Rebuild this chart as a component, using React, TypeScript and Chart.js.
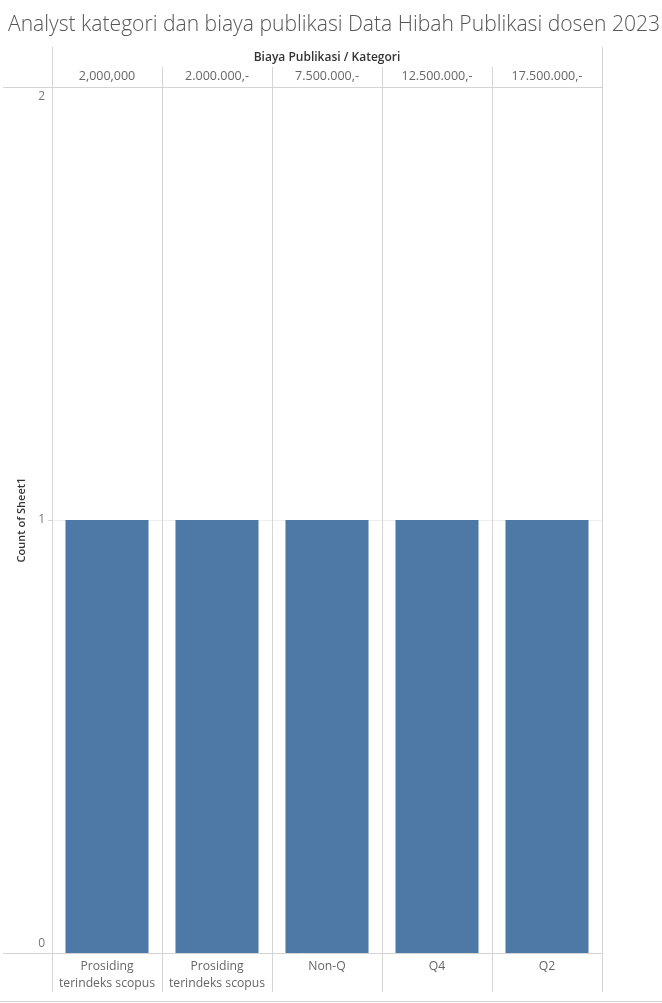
import { useEffect, useRef } from "react";
import { Chart, registerables } from "chart.js";

Chart.register(...registerables);

const TITLE = "Analyst kategori dan biaya publikasi Data Hibah Publikasi dosen 2023";
const HEADER = "Biaya Publikasi / Kategori";
const Y_TITLE = "Count of Sheet1";

const kategori: (string | string[])[] = [
  ["Prosiding", "terindeks scopus"],
  ["Prosiding", "terindeks scopus"],
  "Non-Q",
  "Q4",
  "Q2",
];
const biaya = ["2,000,000", "2.000.000,-", "7.500.000,-", "12.500.000,-", "17.500.000,-"];
const counts = [1, 1, 1, 1, 1];
const yTicks = [0, 1, 2];

const FONT = "'Open Sans', 'DejaVu Sans', sans-serif";
const LINE = "#d4d4d4";

export default function App() {
  const ref = useRef<HTMLCanvasElement>(null);

  useEffect(() => {
    document.body.style.margin = "0";
    const canvas = ref.current;
    if (!canvas) return;

    const hline = (ctx: CanvasRenderingContext2D, x1: number, x2: number, y: number) => {
      const py = Math.round(y) + 0.5;
      ctx.beginPath();
      ctx.moveTo(x1, py);
      ctx.lineTo(x2, py);
      ctx.stroke();
    };
    const vline = (ctx: CanvasRenderingContext2D, x: number, y1: number, y2: number) => {
      const px = Math.round(x) + 0.5;
      ctx.beginPath();
      ctx.moveTo(px, y1);
      ctx.lineTo(px, y2);
      ctx.stroke();
    };

    const decor = {
      id: "decor",
      beforeDatasetsDraw(chart: any) {
        const ctx = chart.ctx as CanvasRenderingContext2D;
        const ys = chart.scales.y;
        const a = chart.chartArea;
        const maxV = yTicks[yTicks.length - 1];
        ctx.save();
        ctx.lineWidth = 1;
        ctx.strokeStyle = "#eeeeee";
        for (const v of yTicks) {
          if (v > 0 && v < maxV) hline(ctx, a.left, a.right, ys.getPixelForValue(v));
        }
        ctx.restore();
      },
      afterDraw(chart: any) {
        const ctx = chart.ctx as CanvasRenderingContext2D;
        const xs = chart.scales.x;
        const ys = chart.scales.y;
        const a = chart.chartArea;
        const n = kategori.length;
        const step = xs.getPixelForValue(1) - xs.getPixelForValue(0);
        const maxV = yTicks[yTicks.length - 1];
        ctx.save();

        // title
        ctx.fillStyle = "#555555";
        ctx.font = `300 21.1px ${FONT}`;
        ctx.textAlign = "left";
        ctx.textBaseline = "middle";
        ctx.fillText(TITLE, 8, 25);

        // header
        ctx.fillStyle = "#333333";
        ctx.font = `600 12px ${FONT}`;
        ctx.textAlign = "center";
        ctx.fillText(HEADER, (a.left + a.right) / 2, 58);

        // lines
        ctx.lineWidth = 1;
        ctx.strokeStyle = LINE;
        hline(ctx, 3, a.right, a.top);
        hline(ctx, 3, a.right, a.bottom);
        for (let i = 0; i <= n; i++) {
          const x = xs.getPixelForValue(Math.min(i, n - 1)) + (i === n ? step / 2 : -step / 2);
          const top = i === 0 || i === n ? 47 : 67;
          vline(ctx, x, top, 992);
        }
        hline(ctx, 0, 662, 1001);

        // y ticks
        ctx.fillStyle = "#777777";
        ctx.font = `12px ${FONT}`;
        ctx.textAlign = "right";
        for (const v of yTicks) {
          let py = ys.getPixelForValue(v);
          if (v === maxV) py += 10;
          else if (v === 0) py -= 9;
          else {
            ctx.strokeStyle = LINE;
            hline(ctx, a.left - 4, a.left, py);
          }
          ctx.fillText(String(v), a.left - 7, py);
        }

        // y title
        ctx.fillStyle = "#333333";
        ctx.font = `600 11px ${FONT}`;
        ctx.translate(22, (a.top + a.bottom) / 2);
        ctx.rotate(-Math.PI / 2);
        ctx.textAlign = "center";
        ctx.fillText(Y_TITLE, 0, 0);
        ctx.restore();
      },
    };

    const chart = new Chart(canvas, {
      type: "bar",
      data: {
        labels: kategori as any,
        datasets: [
          {
            data: counts,
            backgroundColor: "#4e79a7",
            categoryPercentage: 1,
            barPercentage: 0.755,
          },
        ],
      },
      options: {
        responsive: false,
        animation: false,
        layout: { padding: { left: 52, right: 60, top: 0, bottom: 0 } },
        plugins: { legend: { display: false }, tooltip: { enabled: false }, title: { display: false } },
        scales: {
          x: {
            position: "bottom",
            offset: true,
            grid: { display: false, drawTicks: false },
            border: { display: false },
            ticks: {
              color: "#666666",
              font: { family: FONT, size: 12.2, lineHeight: 1.38 },
              padding: 5,
              maxRotation: 0,
              autoSkip: false,
            },
            afterFit: (s: any) => {
              s.height = 50;
            },
          },
          x2: {
            type: "category",
            position: "top",
            labels: biaya,
            offset: true,
            grid: { display: false, drawTicks: false },
            border: { display: false },
            ticks: {
              color: "#666666",
              font: { family: FONT, size: 12.5 },
              padding: 3,
              maxRotation: 0,
              autoSkip: false,
            },
            afterFit: (s: any) => {
              s.height = 87;
            },
          },
          y: {
            display: false,
            min: 0,
            max: 2,
            ticks: { stepSize: 1 },
          },
        },
      },
      plugins: [decor],
    } as any);

    return () => chart.destroy();
  }, []);

  return (
    <div style={{ width: 662, height: 1003 }}>
      <canvas ref={ref} width={662} height={1003} />
    </div>
  );
}
